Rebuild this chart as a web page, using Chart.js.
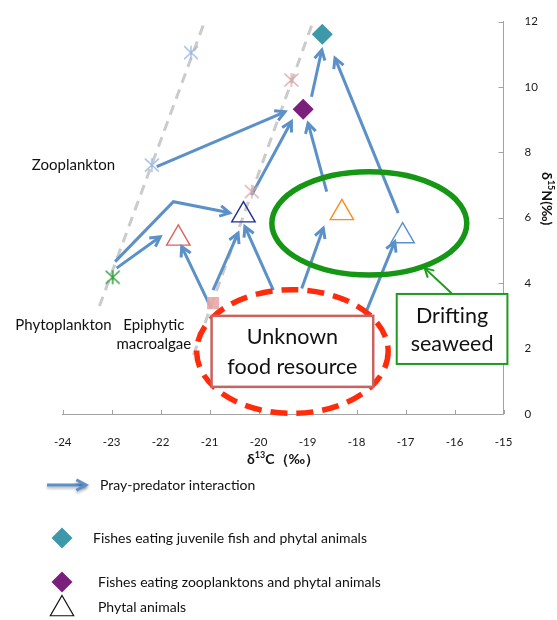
<!DOCTYPE html>
<html>
<head>
<meta charset="utf-8">
<title>Stable isotope food web</title>
<script src="https://cdn.jsdelivr.net/npm/chart.js@4.4.1/dist/chart.umd.min.js"></script>
<style>
html, body { margin: 0; padding: 0; background: #fff; }
canvas { display: block; }
</style>
</head>
<body>
<canvas id="web" width="557" height="620" style="width:557px;height:620px"></canvas>
<script>
// Axis ticks
const xTicks = [-24, -23, -22, -21, -20, -19, -18, -17, -16, -15];
const yTicks = [0, 2, 4, 6, 8, 10, 12];

// Consumers and sources: δ13C (x) and δ15N (y), ‰
const fishJuvenileFeeders = [{ x: -18.70, y: 11.61 }];
const fishZooplanktonFeeders = [{ x: -19.09, y: 9.32 }];
const zooplanktonBlue = [{ x: -22.18, y: 7.61 }, { x: -21.38, y: 11.05 }];
const zooplanktonPink = [{ x: -20.14, y: 6.80 }, { x: -19.33, y: 10.21 }];
const phytoplankton = [{ x: -22.98, y: 4.18 }];
const epiphyticMacroalgae = [{ x: -20.93, y: 3.39 }];
const phytalRed = [{ x: -21.64, y: 5.37 }];
const phytalNavy = [{ x: -20.31, y: 6.08 }];
const phytalOrange = [{ x: -18.30, y: 6.15 }];
const phytalBlue = [{ x: -17.06, y: 5.44 }];

// Trend lines along the two enrichment chains
const pelagicChain = [{ x: -23.25, y: 3.30 }, { x: -21.03, y: 12.29 }];
const benthicChain = [{ x: -21.33, y: 1.80 }, { x: -18.89, y: 11.99 }];

// Prey -> predator links; the last point of each is the arrow tip
const preyPredator = [
  [[-22.08, 7.56], [-19.46, 9.24]],
  [[-22.93, 4.66], [-21.74, 6.49], [-20.59, 6.15]],
  [[-22.90, 4.46], [-22.01, 5.42]],
  [[-20.97, 3.24], [-21.57, 5.12]],
  [[-20.93, 3.79], [-20.42, 5.53]],
  [[-19.70, 3.79], [-20.28, 5.73]],
  [[-20.14, 6.70], [-19.33, 8.94]],
  [[-18.61, 6.80], [-18.99, 8.89]],
  [[-18.92, 9.70], [-18.71, 11.13]],
  [[-17.15, 6.14], [-18.44, 10.88]],
  [[-19.12, 3.84], [-18.68, 5.68]],
  [[-17.83, 3.03], [-17.22, 5.27]]
];

// Group labels placed in data space
const groupLabels = [
  { text: 'Zooplankton', x: -22.93, y: 7.61, align: 'right' },
  { text: 'Phytoplankton', x: -23.0, y: 2.72, align: 'right' },
  { text: 'Epiphytic', x: -22.14, y: 2.72, align: 'center' },
  { text: 'macroalgae', x: -22.14, y: 2.14, align: 'center' }
];

// Outlined regions and call-out boxes (data space)
const shapes = {
  seaweedRing: { cx: -17.74, cy: 5.83, rx: 1.99, ry: 1.58 },
  unknownRing: { cx: -19.31, cy: 1.91, rx: 1.955, ry: 1.89 },
  unknownBox: { x0: -20.96, x1: -17.66, y0: 0.83, y1: 3.0, lines: [['Unknown', 2.36], ['food resource', 1.45]] },
  seaweedBox: { x0: -17.18, x1: -14.92, y0: 1.53, y1: 3.67, lines: [['Drifting', 2.98], ['seaweed', 2.13]] },
  seaweedPointer: [[-16.06, 3.69], [-16.61, 4.46]]
};

// Key below the plot (pixel layout)
const legendItems = [
  { kind: 'arrow', label: 'Pray-predator interaction', y: 485, tx: 100 },
  { kind: 'diamond', color: '#3d98aa', label: 'Fishes eating juvenile fish and phytal animals', y: 538, tx: 93 },
  { kind: 'diamond', color: '#7a1f7b', label: 'Fishes eating zooplanktons and phytal animals', y: 582, tx: 98 },
  { kind: 'triangle', label: 'Phytal animals', y: 609, tx: 98 }
];

const FONT = 'Lato, "Noto Sans", "DejaVu Sans", sans-serif';
const ARROW_BLUE = '#5b90c8';
const AXIS_GREY = '#a3a3a3';

// six-armed asterisk marker
function asterisk(color, lw) {
  const s = 18, c = document.createElement('canvas');
  c.width = s; c.height = s;
  const g = c.getContext('2d');
  g.translate(s / 2, s / 2);
  g.strokeStyle = color; g.lineWidth = lw;
  g.beginPath();
  g.moveTo(0, -7); g.lineTo(0, 7);
  g.moveTo(-7, -6.5); g.lineTo(7, 6.5);
  g.moveTo(7, -6.5); g.lineTo(-7, 6.5);
  g.stroke();
  return c;
}

function arrowHead(ctx, x0, y0, x1, y1, color, width, len) {
  const a = Math.atan2(y1 - y0, x1 - x0), spread = 0.5;
  ctx.save();
  ctx.strokeStyle = color; ctx.lineWidth = width;
  ctx.lineJoin = 'miter'; ctx.lineCap = 'butt';
  ctx.beginPath();
  ctx.moveTo(x1 - len * Math.cos(a - spread), y1 - len * Math.sin(a - spread));
  ctx.lineTo(x1, y1);
  ctx.lineTo(x1 - len * Math.cos(a + spread), y1 - len * Math.sin(a + spread));
  ctx.stroke();
  ctx.restore();
}

function markerSet(data, opts) {
  return Object.assign({ data, showLine: false, order: 1, borderWidth: 1.4,
    backgroundColor: 'rgba(0,0,0,0)' }, opts);
}

const datasets = [
  markerSet(fishJuvenileFeeders, { label: 'Fishes eating juvenile fish and phytal animals', pointStyle: 'rectRot', pointRadius: 10.5, backgroundColor: '#3d98aa', borderColor: '#3d98aa', borderWidth: 0 }),
  markerSet(fishZooplanktonFeeders, { label: 'Fishes eating zooplanktons and phytal animals', pointStyle: 'rectRot', pointRadius: 10.5, backgroundColor: '#7a1f7b', borderColor: '#7a1f7b', borderWidth: 0 }),
  markerSet(zooplanktonBlue, { label: 'Zooplankton', pointStyle: asterisk('#98b8df', 1.3), pointRadius: 7 }),
  markerSet(zooplanktonPink, { label: 'Zooplankton', pointStyle: asterisk('#dba7a5', 1.3), pointRadius: 7 }),
  markerSet(phytoplankton, { label: 'Phytoplankton', pointStyle: asterisk('#2e9c3c', 1.5), pointRadius: 7 }),
  markerSet(epiphyticMacroalgae, { label: 'Epiphytic macroalgae', pointStyle: 'rect', pointRadius: 8.5, backgroundColor: 'rgba(232,166,166,0.9)', borderWidth: 0 }),
  markerSet(phytalRed, { label: 'Phytal animals', pointStyle: 'triangle', pointRadius: 13.5, borderColor: '#e0625c' }),
  markerSet(phytalNavy, { label: 'Phytal animals', pointStyle: 'triangle', pointRadius: 13.5, borderColor: '#1f2d9c' }),
  markerSet(phytalOrange, { label: 'Phytal animals', pointStyle: 'triangle', pointRadius: 13.5, borderColor: '#ff8a1e' }),
  markerSet(phytalBlue, { label: 'Phytal animals', pointStyle: 'triangle', pointRadius: 13.5, borderColor: '#5b8fd0' }),
  { data: pelagicChain, showLine: true, pointRadius: 0, borderColor: '#cbcbcb', borderWidth: 3, borderDash: [10, 7], order: 3 },
  { data: benthicChain, showLine: true, pointRadius: 0, borderColor: '#cbcbcb', borderWidth: 3, borderDash: [10, 7], order: 3 }
];
preyPredator.forEach(link => datasets.push({
  data: link.map(([x, y]) => ({ x, y })), showLine: true, pointRadius: 0,
  borderColor: ARROW_BLUE, borderWidth: 3, order: 2, arrow: true, tension: 0
}));

function drawEllipse(ctx, xs, ys, e) {
  const cx = xs.getPixelForValue(e.cx), cy = ys.getPixelForValue(e.cy);
  const rx = Math.abs(xs.getPixelForValue(e.cx + e.rx) - cx);
  const ry = Math.abs(ys.getPixelForValue(e.cy + e.ry) - cy);
  ctx.beginPath();
  ctx.ellipse(cx, cy, rx, ry, 0, 0, Math.PI * 2);
  ctx.stroke();
}

function drawBox(ctx, xs, ys, b, border, lw) {
  const l = xs.getPixelForValue(b.x0), r = xs.getPixelForValue(b.x1);
  const t = ys.getPixelForValue(b.y1), bt = ys.getPixelForValue(b.y0);
  ctx.fillStyle = '#fff';
  ctx.fillRect(l, t, r - l, bt - t);
  ctx.strokeStyle = border; ctx.lineWidth = lw;
  ctx.strokeRect(l, t, r - l, bt - t);
  ctx.fillStyle = '#111';
  ctx.font = '21.5px ' + FONT;
  ctx.textAlign = 'center'; ctx.textBaseline = 'middle';
  const cx = (l + r) / 2;
  b.lines.forEach(([txt, yv]) => ctx.fillText(txt, cx, ys.getPixelForValue(yv)));
}

// text with a raised, smaller run, e.g. δ¹³C
function richText(ctx, parts, x, y, size, weight) {
  const fonts = parts.map(p => `${weight} ${p.sup ? Math.round(size * 0.62) : size}px ${FONT}`);
  let total = 0;
  const widths = parts.map((p, i) => { ctx.font = fonts[i]; const w = ctx.measureText(p.t).width; total += w; return w; });
  let cx = x - total / 2;
  ctx.textAlign = 'left'; ctx.textBaseline = 'middle';
  parts.forEach((p, i) => {
    ctx.font = fonts[i];
    ctx.fillText(p.t, cx, p.sup ? y - size * 0.28 : y);
    cx += widths[i];
  });
}

const foodWebDecor = {
  id: 'foodWebDecor',
  beforeDatasetsDraw(chart) {
    const { ctx, scales: { x, y } } = chart;
    ctx.save();
    ctx.strokeStyle = AXIS_GREY; ctx.lineWidth = 1;
    ctx.beginPath();
    x.ticks.forEach(t => {
      const p = Math.round(x.getPixelForValue(t.value)) + 0.5;
      ctx.moveTo(p, x.top); ctx.lineTo(p, x.top - 4);
    });
    y.ticks.forEach(t => {
      const p = Math.round(y.getPixelForValue(t.value)) + 0.5;
      ctx.moveTo(y.left, p); ctx.lineTo(y.left - 5, p);
    });
    ctx.stroke();
    ctx.restore();
  },
  afterDatasetsDraw(chart) {
    const { ctx, scales: { x, y } } = chart;
    ctx.save();
    // arrow tips on prey -> predator links
    chart.data.datasets.forEach((ds, i) => {
      if (!ds.arrow) return;
      const pts = chart.getDatasetMeta(i).data;
      const a = pts[pts.length - 2], b = pts[pts.length - 1];
      arrowHead(ctx, a.x, a.y, b.x, b.y, ds.borderColor, ds.borderWidth, 11);
    });

    // drifting seaweed group
    ctx.strokeStyle = '#159615'; ctx.lineWidth = 5.5; ctx.setLineDash([]);
    drawEllipse(ctx, x, y, shapes.seaweedRing);

    // unknown food resource group
    ctx.strokeStyle = '#ff2c0c'; ctx.lineWidth = 5.5; ctx.setLineDash([17, 9]);
    drawEllipse(ctx, x, y, shapes.unknownRing);
    ctx.setLineDash([]);

    drawBox(ctx, x, y, shapes.unknownBox, '#c9635f', 2.5);
    drawBox(ctx, x, y, shapes.seaweedBox, '#1e9a1e', 2);

    // pointer from the seaweed call-out to its ring
    const [[px0, py0], [px1, py1]] = shapes.seaweedPointer;
    const sx = x.getPixelForValue(px0), sy = y.getPixelForValue(py0);
    const ex = x.getPixelForValue(px1), ey = y.getPixelForValue(py1);
    ctx.strokeStyle = '#1e9a1e'; ctx.lineWidth = 2;
    ctx.beginPath(); ctx.moveTo(sx, sy); ctx.lineTo(ex, ey); ctx.stroke();
    arrowHead(ctx, sx, sy, ex, ey, '#1e9a1e', 2, 10);

    // group names
    ctx.fillStyle = '#111';
    ctx.font = '15px ' + FONT;
    ctx.textBaseline = 'middle';
    groupLabels.forEach(l => {
      ctx.textAlign = l.align;
      ctx.fillText(l.text, x.getPixelForValue(l.x), y.getPixelForValue(l.y));
    });
    ctx.restore();
  },
  afterDraw(chart) {
    const { ctx, chartArea } = chart;
    ctx.save();
    ctx.fillStyle = '#111';
    // axis titles
    const midX = (chartArea.left + chartArea.right) / 2;
    richText(ctx, [{ t: 'δ' }, { t: '13', sup: true }, { t: 'C（‰）' }], midX, 459, 14, 'bold');
    ctx.save();
    ctx.translate(547, (chartArea.top + chartArea.bottom) / 2 - 19);
    ctx.rotate(Math.PI / 2);
    richText(ctx, [{ t: 'δ' }, { t: '15', sup: true }, { t: 'N(‰)' }], 0, 0, 14, 'bold');
    ctx.restore();

    // key
    legendItems.forEach(item => {
      const cx = 62, cy = item.y;
      if (item.kind === 'arrow') {
        ctx.save();
        ctx.shadowColor = 'rgba(0,0,0,0.3)'; ctx.shadowBlur = 3; ctx.shadowOffsetY = 2;
        ctx.strokeStyle = ARROW_BLUE; ctx.lineWidth = 3;
        ctx.beginPath(); ctx.moveTo(47, cy); ctx.lineTo(86, cy); ctx.stroke();
        arrowHead(ctx, 47, cy, 86, cy, ARROW_BLUE, 3, 11);
        ctx.restore();
      } else if (item.kind === 'diamond') {
        ctx.fillStyle = item.color;
        ctx.beginPath();
        ctx.moveTo(cx - 10.5, cy); ctx.lineTo(cx, cy - 10.5);
        ctx.lineTo(cx + 10.5, cy); ctx.lineTo(cx, cy + 10.5);
        ctx.closePath(); ctx.fill();
      } else {
        const r = 13.5;
        ctx.strokeStyle = '#111'; ctx.lineWidth = 1.2;
        ctx.beginPath();
        ctx.moveTo(cx, cy - r);
        ctx.lineTo(cx + r * Math.sin(2 * Math.PI / 3), cy - r * Math.cos(2 * Math.PI / 3));
        ctx.lineTo(cx - r * Math.sin(2 * Math.PI / 3), cy - r * Math.cos(2 * Math.PI / 3));
        ctx.closePath(); ctx.stroke();
      }
      ctx.fillStyle = '#111';
      ctx.font = '14px ' + FONT;
      ctx.textAlign = 'left'; ctx.textBaseline = 'middle';
      ctx.fillText(item.label, item.tx, item.kind === 'triangle' ? cy - 2 : cy);
    });
    ctx.restore();
  }
};

Chart.defaults.font.family = FONT;
Chart.defaults.color = '#111';

new Chart(document.getElementById('web'), {
  type: 'scatter',
  data: { datasets },
  options: {
    responsive: false,
    animation: false,
    devicePixelRatio: 1,
    events: [],
    layout: { padding: { left: 62.7, top: 21.5, right: 0, bottom: 0 } },
    plugins: { legend: { display: false }, tooltip: { enabled: false } },
    scales: {
      x: {
        type: 'linear', position: 'bottom', min: -24, max: -15,
        afterBuildTicks: s => { s.ticks = xTicks.map(v => ({ value: v })); },
        ticks: { font: { size: 11.5 }, padding: 13, color: '#1a1a1a' },
        grid: { display: false },
        border: { color: AXIS_GREY, width: 1 },
        afterFit: s => { s.height = 620 - 414; }
      },
      y: {
        type: 'linear', position: 'right', min: 0, max: 12,
        afterBuildTicks: s => { s.ticks = yTicks.map(v => ({ value: v })); },
        ticks: { font: { size: 11.5 }, padding: 13, color: '#1a1a1a' },
        grid: { display: false },
        border: { color: AXIS_GREY, width: 1 },
        afterFit: s => { s.width = 557 - 503.5; }
      }
    }
  },
  plugins: [foodWebDecor]
});
</script>
</body>
</html>
